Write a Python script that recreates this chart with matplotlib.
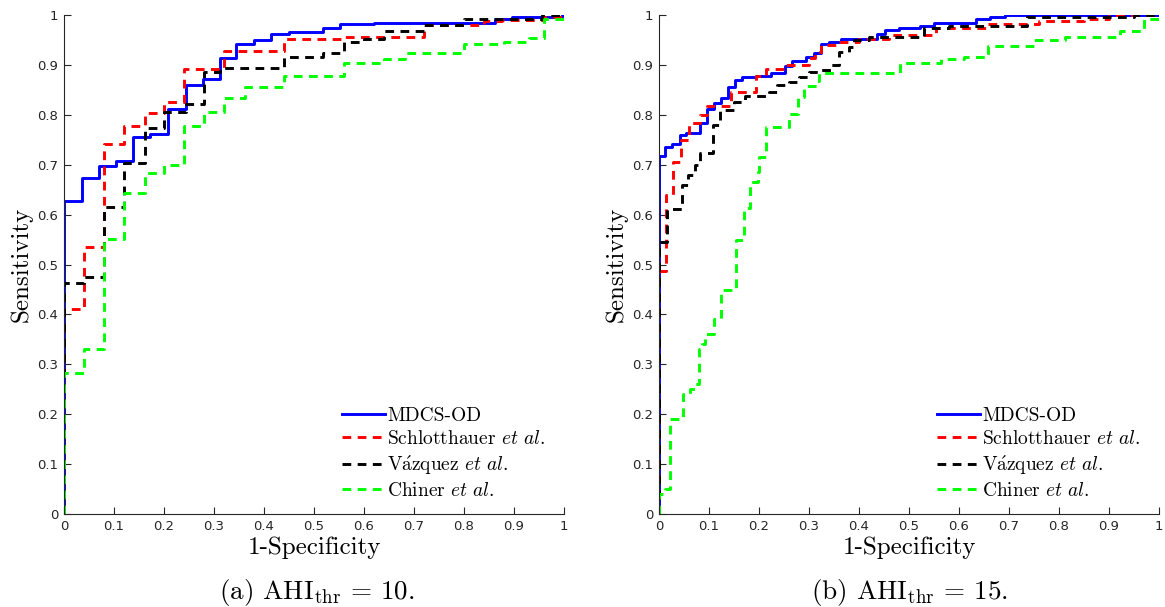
import matplotlib
matplotlib.use("Agg")
import matplotlib.pyplot as plt

plt.rcParams['mathtext.fontset'] = 'cm'

# ROC corner points (1-specificity, sensitivity), step drawn "post"
# panel (a) AHI_thr = 10
a_mdcs_x = [0, 0, 0.035, 0.07, 0.104, 0.138, 0.172, 0.207, 0.243, 0.277, 0.311, 0.344, 0.379,
            0.414, 0.449, 0.517, 0.551, 0.62, 0.862, 0.895, 0.995, 1]
a_mdcs_y = [0, 0.627, 0.673, 0.697, 0.708, 0.756, 0.762, 0.812, 0.859, 0.872, 0.914, 0.941, 0.949,
            0.961, 0.965, 0.973, 0.981, 0.984, 0.992, 0.996, 1.0, 1.0]
a_sch_x = [0, 0, 0.04, 0.079, 0.119, 0.161, 0.2, 0.24, 0.32, 0.44, 0.559, 0.719, 0.839, 0.875, 0.96, 1]
a_sch_y = [0, 0.41, 0.536, 0.741, 0.777, 0.804, 0.825, 0.892, 0.927, 0.951, 0.956, 0.98, 0.987, 0.99, 0.996, 1.0]
a_vaz_x = [0, 0, 0.039, 0.079, 0.119, 0.161, 0.2, 0.243, 0.28, 0.312, 0.439, 0.517, 0.559, 0.599,
           0.639, 0.719, 0.799, 0.955, 1]
a_vaz_y = [0, 0.462, 0.474, 0.615, 0.703, 0.774, 0.805, 0.821, 0.885, 0.893, 0.916, 0.924, 0.945, 0.951,
           0.968, 0.98, 0.992, 0.999, 1.0]
a_chi_x = [0, 0, 0.039, 0.079, 0.12, 0.161, 0.2, 0.24, 0.28, 0.32, 0.361, 0.44, 0.559, 0.639, 0.682,
           0.799, 0.879, 0.929, 0.96, 1]
a_chi_y = [0, 0.283, 0.331, 0.552, 0.643, 0.683, 0.700, 0.778, 0.806, 0.833, 0.856, 0.878, 0.904, 0.912,
           0.924, 0.941, 0.945, 0.953, 0.991, 1.0]

# panel (b) AHI_thr = 15
b_mdcs_x = [0, 0, 0.012, 0.027, 0.042, 0.055, 0.083, 0.097, 0.111, 0.125, 0.139, 0.153, 0.167, 0.195,
            0.224, 0.252, 0.267, 0.295, 0.31, 0.324, 0.339, 0.365, 0.435, 0.452, 0.479, 0.521, 0.549,
            0.634, 0.661, 0.691, 1]
b_mdcs_y = [0, 0.718, 0.736, 0.741, 0.760, 0.764, 0.783, 0.811, 0.823, 0.834, 0.856, 0.870, 0.875, 0.878,
            0.884, 0.898, 0.908, 0.916, 0.924, 0.941, 0.945, 0.951, 0.962, 0.969, 0.974, 0.978, 0.984,
            0.992, 0.996, 1.0, 1.0]
b_sch_x = [0, 0, 0.014, 0.029, 0.044, 0.06, 0.082, 0.097, 0.145, 0.195, 0.215, 0.25, 0.3, 0.312, 0.325,
           0.355, 0.4, 0.46, 0.553, 0.655, 0.76, 0.85, 0.9, 1]
b_sch_y = [0, 0.486, 0.64, 0.706, 0.75, 0.784, 0.80, 0.818, 0.845, 0.878, 0.891, 0.90, 0.913, 0.926, 0.94,
           0.945, 0.952, 0.96, 0.973, 0.982, 0.988, 0.992, 1.0, 1.0]
b_vaz_x = [0, 0, 0.017, 0.046, 0.059, 0.073, 0.083, 0.108, 0.122, 0.15, 0.172, 0.22, 0.237, 0.26, 0.28,
           0.3, 0.32, 0.345, 0.36, 0.38, 0.39, 0.42, 0.53, 0.58, 0.735, 0.95, 1]
b_vaz_y = [0, 0.546, 0.612, 0.66, 0.68, 0.70, 0.724, 0.78, 0.81, 0.826, 0.837, 0.845, 0.86, 0.865, 0.875,
           0.886, 0.89, 0.9, 0.926, 0.935, 0.95, 0.955, 0.973, 0.978, 0.995, 1.0, 1.0]
b_chi_x = [0, 0, 0.012, 0.022, 0.048, 0.063, 0.073, 0.08, 0.087, 0.093, 0.11, 0.124, 0.155, 0.17, 0.183,
           0.198, 0.2, 0.214, 0.26, 0.277, 0.29, 0.317, 0.32, 0.482, 0.563, 0.609, 0.657, 0.749, 0.812,
           0.922, 0.97, 1]
b_chi_y = [0, 0.04, 0.05, 0.19, 0.24, 0.25, 0.26, 0.33, 0.34, 0.36, 0.39, 0.449, 0.55, 0.613, 0.666,
           0.685, 0.715, 0.775, 0.801, 0.835, 0.858, 0.868, 0.884, 0.903, 0.911, 0.916, 0.937, 0.95, 0.955,
           0.968, 0.992, 1.0]

labels = ['MDCS-OD', r'Schlotthauer $\mathit{et\ al.}$', r'V$\acute{\mathrm{a}}$zquez $\mathit{et\ al.}$',
          r'Chiner $\mathit{et\ al.}$']
captions = [r'(a) AHI$_{\mathrm{thr}}$ = 10.', r'(b) AHI$_{\mathrm{thr}}$ = 15.']
ticks = [i / 10 for i in range(11)]
tick_labels = ['0', '0.1', '0.2', '0.3', '0.4', '0.5', '0.6', '0.7', '0.8', '0.9', '1']

serif = ['cmr10', 'DejaVu Serif']
dash = (0, (3, 2.2))

fig = plt.figure(figsize=(11.65, 6.07), dpi=100)
axes = [fig.add_axes([64 / 1165, 93 / 607, 500 / 1165, 499 / 607]),
        fig.add_axes([659 / 1165, 93 / 607, 500 / 1165, 499 / 607])]

panels = [
    [(a_mdcs_x, a_mdcs_y), (a_sch_x, a_sch_y), (a_vaz_x, a_vaz_y), (a_chi_x, a_chi_y)],
    [(b_mdcs_x, b_mdcs_y), (b_sch_x, b_sch_y), (b_vaz_x, b_vaz_y), (b_chi_x, b_chi_y)],
]
styles = [('#0000ff', '-'), ('#ff0000', dash), ('#000000', dash), ('#00ff00', dash)]

for ax, curves, cap, cx in zip(axes, panels, captions, [317, 910]):
    for (x, y), (c, ls), lab in zip(curves, styles, labels):
        ax.step(x, y, where='post', color=c, linestyle=ls, lw=2.1, label=lab)
    ax.set_xlim(0, 1)
    ax.set_ylim(0, 1)
    ax.set_xticks(ticks)
    ax.set_yticks(ticks)
    ax.set_xticklabels(tick_labels)
    ax.set_yticklabels(tick_labels)
    ax.tick_params(direction='in', length=5, width=0.8, labelsize=9.5, colors='#262626', pad=4)
    for s in ['top', 'right']:
        ax.spines[s].set_visible(False)
    for s in ['left', 'bottom']:
        ax.spines[s].set_color('#262626')
        ax.spines[s].set_linewidth(0.8)
    ax.set_xlabel('1-Specificity', fontsize=18, family=serif)
    ax.set_ylabel('Sensitivity', fontsize=18, family=serif)
    ax.xaxis.set_label_coords(0.5, -0.045)
    ax.yaxis.set_label_coords(-0.062, 0.5)
    ax.legend(loc='lower left', bbox_to_anchor=(0.54, 0.012), frameon=False,
              prop={'family': serif, 'size': 14}, handlelength=2.2, handletextpad=0.15,
              labelspacing=0.28, borderaxespad=0)
    fig.text(cx / 1165, 1 - 592 / 607, cap, ha='center', va='center', fontsize=19.5, family=serif)

fig.savefig('out.png', dpi=100)
